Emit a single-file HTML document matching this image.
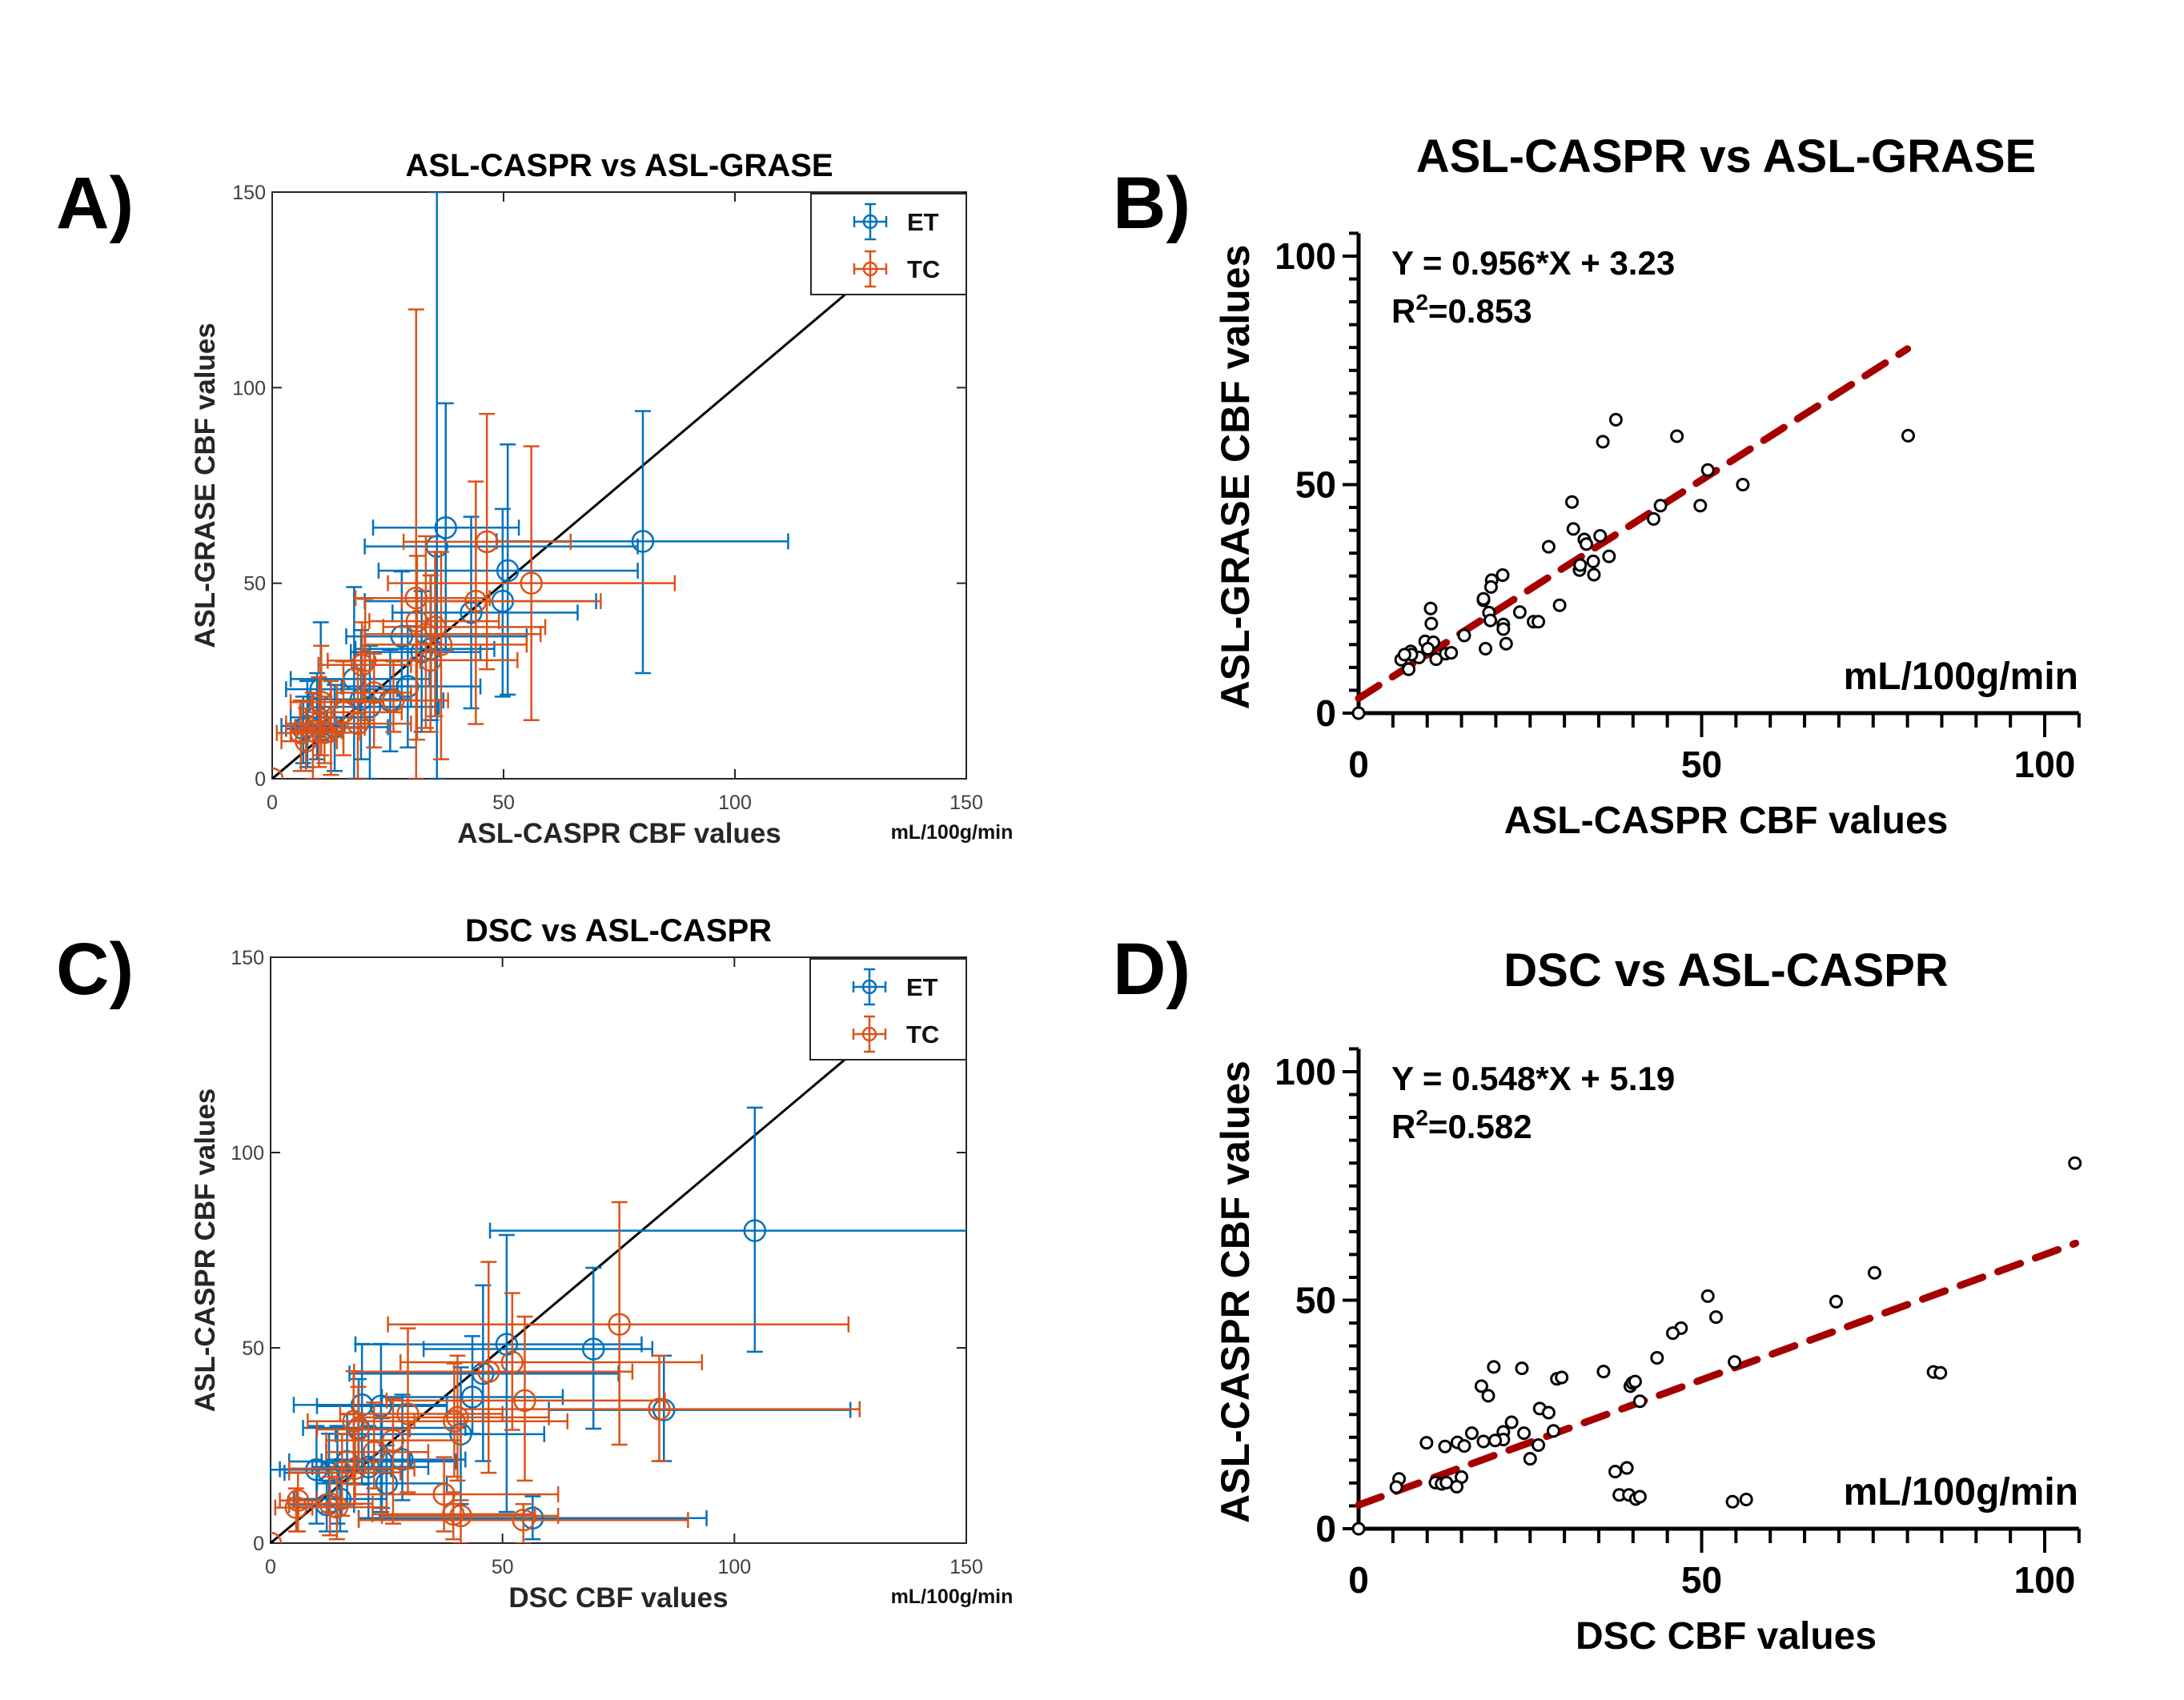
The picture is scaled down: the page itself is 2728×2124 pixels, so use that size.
<!DOCTYPE html>
<html><head><meta charset="utf-8"><style>
html,body{margin:0;padding:0;background:#fff;}
svg{display:block;}
</style></head><body>
<svg id="fig" width="2728" height="2124" viewBox="0 0 2728 2124" xmlns="http://www.w3.org/2000/svg" font-family="Liberation Sans, Arial, sans-serif"></svg>
<script>
// ---------- DATA ----------
// Panel A: [x, y, xlo, xhi, ylo, yhi]
const etA = [
[80.1,60.7,48.5,111.5,27,94],[37.5,64.2,21.8,53.3,33,96],[35.6,59.4,20,79,0,150],
[50.9,53.2,23,79,21.5,85.5],[49.8,45.4,20,70,21,69],[43,42.5,26,66,18,67],
[28,36.4,16,55,20,53],[29.3,23.6,15,45,8,39],[17.7,25.5,4,34,0,49],
[21.1,18.4,10,36,0,34],[19.2,20.3,8,30,5,38],[10.5,22.9,3,27,10,40],
[9.7,15.7,4,20,5,27],[7.6,13.5,2,15,3,25],[13.5,13.2,5,25,2,24],
[6.7,12.8,3,14,4,21],[34.3,33.2,18,48,15,52],[32.3,32.4,17,45,12,48],[25.5,20,14,37,7,33]];
const tcA = [
[46.4,60.6,28.4,64.5,28,93.3],[56,50,25,87,15,85],[31.1,46.2,18,47,0,120],
[44,45.4,28,71,14,76],[33.2,37,20,58,13,62],[31.3,40.3,21,49,10,57],
[35.2,38.8,24,59,16,58],[36.5,34.3,20,55,5,58],[34.2,30.3,20,53,12,52],
[20.1,30.2,12,32,15,46],[19.4,29.1,10,30,20,40],[26.2,20,14,38,12,30],
[22,22,14,30,8,32],[18.5,14.1,8,30,0,28],[15.4,17,6,28,6,30],
[10.6,19.6,4,24,6,34],[10.1,14.1,3,20,3,26],[11.3,11.8,4,19,4,21],
[8.8,12.2,4,15,0,22],[7.3,9.6,2,14,2,18],[6.2,11.7,1,13,2,20],[12.7,13,5,20,1,25],[0,0,0,0,0,0]];
// Panel C
const etC = [
[104.4,80,47.3,152,49,111.5],[69.6,49.7,33,82.3,29.3,70.5],[50.9,50.9,18.3,80,8,78.9],
[45.8,43.4,17,75,21,66],[43.5,37.4,24,63,28,53],[84.8,34.1,60,125,21,48],
[41,27.9,14,59,10,45],[56.5,6.4,19,94,1,12],[19.7,35.4,5,38,15,51],
[23.8,35.1,10,38,8,51],[19,29.5,7,42,18,42],[24,20.9,11,40,9,32],
[21.1,19.5,9,34,6,30],[16.5,20.9,4,30,10,33],[9.9,18.8,0,20,5,30],
[12.6,18,3,25,8,28],[14.4,18.9,2,26,5,30],[28.4,21.4,12,42,11,38],
[12.1,9.8,4,18,3,16],[15,11.3,5,25,3,17],[25,15.3,10,38,7,25]];
const tcC = [
[75.2,56,25.3,124.6,25.2,87.3],[52.1,46.3,28,93,29,64],[47,43.9,18,78,18,72],
[54.8,36.5,25,85,16,58],[83.8,34.3,41,127,21,48],[39.6,31.2,20,64,17,46],
[40.3,32.2,18,60,16,48],[29.6,33.1,15,50,13,55],[18.9,29.1,10,30,18,40],
[17.9,31.2,8,31,15,44],[22.3,23.3,12,34,14,36],[26.4,26.3,12,41,5,37],
[18.2,19.1,4,31,10,29],[15.4,18.1,4,28,7,28],[37.4,12.5,18,62,3,22],
[54.5,5.9,19,90,0,10],[39.4,7.4,22,57,1,13],[41,7,24,62,0,11],
[5.9,10.9,2,10,3,18],[5.5,9.1,1,9,3,14],[12.8,10.1,4,22,2,17],[14.3,9.2,6,25,1,17],[0,0,0,0,0,0]];
// Panel B scatter
const bX = [80.1,37.5,35.6,46.4,50.9,56,49.8,44,43,31.1,31.3,32.9,33.2,35.2,36.5,34.2,34.3,32.2,32.3,27.7,29.3,21,19.4,19.3,18.2,18.2,19,19.2,21.1,21.1,23.5,25.5,26.2,21.5,18.5,15.4,10.5,10.6,9.7,10.9,10.1,11.3,12.7,13.5,8.8,7.6,7.7,6.2,6.7,7.3,0];
const bY = [60.7,64.2,59.4,60.6,53.2,50,45.4,45.4,42.5,46.2,40.3,38,37,38.8,34.3,33.2,30.3,31.3,32.4,36.4,23.6,30.2,29.1,27.6,24.7,25,22,20.3,19.4,18.4,22.1,20,20,15.2,14.1,17,22.9,19.6,15.7,15.5,14.1,11.8,13,13.2,12.2,13.5,12.8,11.7,12.8,9.6,0];
const bFit = [0.956, 3.23];
// Panel D scatter
const dX = [104.4,75.2,69.6,50.9,52.1,47,45.8,43.5,54.8,83.8,84.8,35.7,19.7,23.8,28.9,29.6,39.6,39.9,40.3,41,17.9,18.9,26.4,27.7,22.3,28.4,24.1,16.5,21.1,21.1,19.9,18.2,9.9,12.6,14.4,15.4,26.2,25,5.9,5.5,11.2,12.1,12.8,15,14.3,37.4,39.1,38,39.4,40.4,41,54.5,56.5,0];
const dY = [80,56,49.7,50.9,46.3,43.9,42.8,37.4,36.5,34.3,34.1,34.4,35.4,35.1,32.8,33.1,31.2,31.9,32.2,27.9,31.2,29.1,26.3,25.4,23.3,21.4,20.9,20.9,21.2,19.5,19.3,19.1,18.8,18,18.9,18.1,18.3,15.3,10.9,9.1,10.1,9.8,10.1,11.3,9.2,12.5,13.3,7.4,7.4,6.5,7,5.9,6.4,0];
const dFit = [0.548, 5.19];
const ticksAC = [0, 50, 100, 150];
const ticksBD = [0, 50, 100];

// ---------- HELPERS ----------
const NS = 'http://www.w3.org/2000/svg';
const svg = document.getElementById('fig');
function el(tag, attrs, parent, text) {
  const e = document.createElementNS(NS, tag);
  for (const k in attrs) e.setAttribute(k, attrs[k]);
  if (text !== undefined) e.textContent = text;
  (parent || svg).appendChild(e);
  return e;
}
function scale(d0, d1, p0, p1) { return v => p0 + (v - d0) * (p1 - p0) / (d1 - d0); }

const BLUE = '#0072BD', ORANGE = '#D95319';

function panelAC(opt) {
  const g = el('g', {});
  
  
  const L = opt.L, R = opt.R, T = opt.T, B = opt.B;
  const sx = scale(0, 150, L, R), sy = scale(0, 150, B, T);
  const lbl = el('text', {x: 70, y: opt.labY, 'font-size': 92, 'font-weight': 'bold'}, g, opt.letter);
  
  
  const t = el('text', {x: (L + R) / 2, y: T - 20, 'font-size': 40, 'font-weight': 'bold', 'text-anchor': 'middle'}, g, opt.title);
  
  
  el('rect', {x: L, y: T, width: R - L, height: B - T, fill: '#fff', stroke: '#262626', 'stroke-width': 2}, g);
  const clip = el('clipPath', {id: 'clip' + opt.cid}, g);
  el('rect', {x: L, y: T, width: R - L, height: B - T}, clip);
  ticksAC.forEach(v => {
    el('line', {x1: sx(v), x2: sx(v), y1: B, y2: B - 12, stroke: '#262626', 'stroke-width': 2}, g);
    el('line', {x1: sx(v), x2: sx(v), y1: T, y2: T + 12, stroke: '#262626', 'stroke-width': 2}, g);
    el('line', {x1: L, x2: L + 12, y1: sy(v), y2: sy(v), stroke: '#262626', 'stroke-width': 2}, g);
    el('line', {x1: R, x2: R - 12, y1: sy(v), y2: sy(v), stroke: '#262626', 'stroke-width': 2}, g);
    const xt = el('text', {x: sx(v), y: B + 38, 'font-size': 25, fill: '#404040', 'text-anchor': 'middle'}, g, v);
    
    
    const yt = el('text', {x: L - 8, y: sy(v) + 9, 'font-size': 25, fill: '#404040', 'text-anchor': 'end'}, g, v);
    
    
  });
  const xl = el('text', {x: (L + R) / 2, y: B + 80, 'font-size': 35, 'font-weight': 'bold', fill: '#262626', 'text-anchor': 'middle'}, g, opt.xlabel);
  
  
  const u = el('text', {x: R - 18, y: B + 75, 'font-size': 25, 'font-weight': 'bold', fill: '#111', 'text-anchor': 'middle'}, g, 'mL/100g/min');
  
  
  const yl = el('text', {x: 0, y: 0, 'font-size': 35, 'font-weight': 'bold', fill: '#262626', 'text-anchor': 'middle', transform: `translate(268,${(T + B) / 2}) rotate(-90)`}, g, opt.ylabel);
  
  
  const plot = el('g', {'clip-path': `url(#clip${opt.cid})`}, g);
  const id = el('line', {x1: sx(0), y1: sy(0), x2: sx(150), y2: sy(150), stroke: '#000', 'stroke-width': 3}, plot);
  
  
  [[opt.et, BLUE, 'et'], [opt.tc, ORANGE, 'tc']].forEach(([data, col, nm]) => {
    data.forEach(d => {
      const pg = el('g', {stroke: col, 'stroke-width': 2.5, fill: 'none'}, plot);
      
      
      const cx = sx(d[0]), cy = sy(d[1]);
      if (d[2] !== d[3]) {
        el('line', {x1: sx(d[2]), x2: sx(d[3]), y1: cy, y2: cy}, pg);
        el('line', {x1: sx(d[2]), x2: sx(d[2]), y1: cy - 10, y2: cy + 10}, pg);
        el('line', {x1: sx(d[3]), x2: sx(d[3]), y1: cy - 10, y2: cy + 10}, pg);
        el('line', {x1: cx, x2: cx, y1: sy(d[4]), y2: sy(d[5])}, pg);
        el('line', {x1: cx - 10, x2: cx + 10, y1: sy(d[4]), y2: sy(d[4])}, pg);
        el('line', {x1: cx - 10, x2: cx + 10, y1: sy(d[5]), y2: sy(d[5])}, pg);
      }
      el('circle', {cx: cx, cy: cy, r: 13}, pg);
    });
  });
  const lg = el('g', {}, g);
  
  
  el('rect', {x: opt.legX, y: T + 2, width: R - opt.legX, height: 126, fill: '#fff', stroke: '#262626', 'stroke-width': 2}, lg);
  [['ET', BLUE, 37], ['TC', ORANGE, 96]].forEach(([n, c, dy]) => {
    const e = el('g', {}, lg);
    
    
    const cx = opt.legX + 74, cy = T + dy;
    const s = el('g', {stroke: c, 'stroke-width': 2.5, fill: 'none'}, e);
    el('line', {x1: cx - 20, x2: cx + 20, y1: cy, y2: cy}, s);
    el('line', {x1: cx - 20, x2: cx - 20, y1: cy - 7, y2: cy + 7}, s);
    el('line', {x1: cx + 20, x2: cx + 20, y1: cy - 7, y2: cy + 7}, s);
    el('line', {x1: cx, x2: cx, y1: cy - 22, y2: cy + 22}, s);
    el('line', {x1: cx - 7, x2: cx + 7, y1: cy - 22, y2: cy - 22}, s);
    el('line', {x1: cx - 7, x2: cx + 7, y1: cy + 22, y2: cy + 22}, s);
    el('circle', {cx: cx, cy: cy, r: 8}, s);
    el('text', {x: cx + 46, y: cy + 11, 'font-size': 31, 'font-weight': 'bold', fill: '#111'}, e, n);
  });
}

function panelBD(opt) {
  const g = el('g', {});
  
  
  const X0 = 1697, X100 = 2554, Y0 = opt.Y0, Y100 = opt.Y100;
  const sx = scale(0, 100, X0, X100), sy = scale(0, 100, Y0, Y100);
  const lbl = el('text', {x: 1390, y: opt.labY, 'font-size': 92, 'font-weight': 'bold'}, g, opt.letter);
  
  
  const t = el('text', {x: 2156, y: opt.titleY, 'font-size': 58, 'font-weight': 'bold', 'text-anchor': 'middle'}, g, opt.title);
  
  
  el('line', {x1: X0, x2: X0, y1: sy(105), y2: Y0 + 2, stroke: '#000', 'stroke-width': 5}, g);
  el('line', {x1: X0 - 2, x2: sx(105), y1: Y0, y2: Y0, stroke: '#000', 'stroke-width': 5}, g);
  for (let v = 5; v <= 105; v += 5) {
    const major = v % 50 === 0;
    el('line', {x1: sx(v), x2: sx(v), y1: Y0, y2: Y0 + (major ? 30 : 18), stroke: '#000', 'stroke-width': 4}, g);
  }
  for (let v = 0; v <= 105; v += 5) {
    const major = v % 50 === 0;
    el('line', {x1: X0, x2: X0 - (major ? 20 : 12), y1: sy(v), y2: sy(v), stroke: '#000', 'stroke-width': 4}, g);
  }
  ticksBD.forEach(v => {
    const xt = el('text', {x: sx(v), y: Y0 + 80, 'font-size': 46, 'font-weight': 'bold', 'text-anchor': 'middle'}, g, v);
    
    
    const yt = el('text', {x: X0 - 28, y: sy(v) + 16, 'font-size': 46, 'font-weight': 'bold', 'text-anchor': 'end'}, g, v);
    
    
  });
  const xl = el('text', {x: 2156, y: Y0 + 150, 'font-size': 48, 'font-weight': 'bold', 'text-anchor': 'middle'}, g, opt.xlabel);
  
  
  const yl = el('text', {x: 0, y: 0, 'font-size': 50, 'font-weight': 'bold', 'text-anchor': 'middle', transform: `translate(1560,${opt.ylabC}) rotate(-90)`}, g, opt.ylabel);
  
  
  const eq = el('text', {x: 1738, y: sy(100) + 23, 'font-size': 42, 'font-weight': 'bold'}, g, `Y = ${opt.fit[0]}*X + ${opt.fit[1]}`);
  
  
  const r2 = el('text', {x: 1738, y: sy(100) + 83, 'font-size': 42, 'font-weight': 'bold'}, g);
  
  
  el('tspan', {}, r2, 'R');
  el('tspan', {dy: -16, 'font-size': 28}, r2, '2');
  el('tspan', {dy: 16}, r2, '=' + opt.r2);
  const u = el('text', {x: 2596, y: Y0 - 30, 'font-size': 48, 'font-weight': 'bold', 'text-anchor': 'end'}, g, 'mL/100g/min');
  
  
  const fl = el('line', {x1: sx(0), y1: sy(opt.fit[1]), x2: sx(opt.fitEnd), y2: sy(opt.fit[0] * opt.fitEnd + opt.fit[1]), stroke: '#A50000', 'stroke-width': 9, 'stroke-dasharray': '30 20', 'stroke-linecap': 'round'}, g);
  
  
  opt.xs.forEach((x, i) => {
    const c = el('circle', {cx: sx(x), cy: sy(opt.ys[i]), r: 7, fill: '#fff', stroke: '#000', 'stroke-width': 3}, g);
    
    
  });
}

panelAC({name: 'panel-a', letter: 'A)', cid: 'A', labY: 285, title: 'ASL-CASPR vs ASL-GRASE', L: 340, R: 1207, T: 240, B: 973,
  xlabel: 'ASL-CASPR CBF values', ylabel: 'ASL-GRASE CBF values', et: etA, tc: tcA, legX: 1013});
panelAC({name: 'panel-c', letter: 'C)', cid: 'C', labY: 1242, title: 'DSC vs ASL-CASPR', L: 338, R: 1207, T: 1196, B: 1928,
  xlabel: 'DSC CBF values', ylabel: 'ASL-CASPR CBF values', et: etC, tc: tcC, legX: 1012});
panelBD({name: 'panel-b', letter: 'B)', labY: 285, title: 'ASL-CASPR vs ASL-GRASE', titleY: 215, Y0: 891, Y100: 320, ylabC: 596,
  xlabel: 'ASL-CASPR CBF values', ylabel: 'ASL-GRASE CBF values', fit: bFit, r2: '0.853', fitEnd: 80, xs: bX, ys: bY});
panelBD({name: 'panel-d', letter: 'D)', labY: 1242, title: 'DSC vs ASL-CASPR', titleY: 1232, Y0: 1910, Y100: 1339, ylabC: 1614,
  xlabel: 'DSC CBF values', ylabel: 'ASL-CASPR CBF values', fit: dFit, r2: '0.582', fitEnd: 104.5, xs: dX, ys: dY});
</script>
</body></html>
